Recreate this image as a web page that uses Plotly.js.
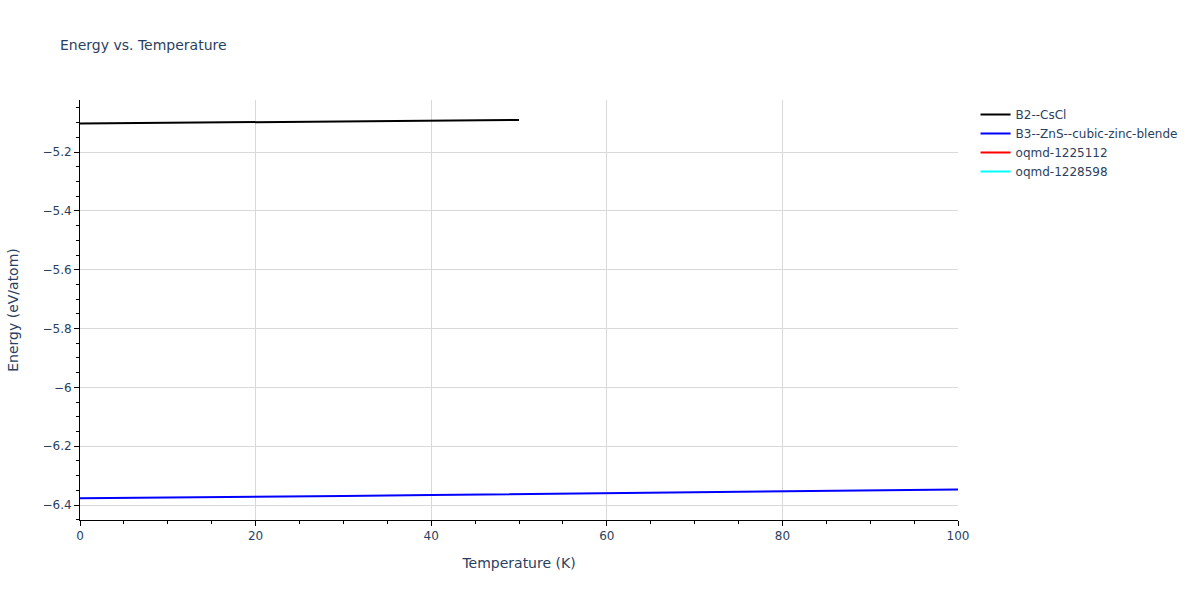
<!DOCTYPE html>
<html>
<head>
<meta charset="utf-8">
<script src="https://cdn.plot.ly/plotly-3.0.1.min.js"></script>
<style>body{margin:0;padding:0;}#chart{width:1200px;height:600px;}</style>
</head>
<body>
<div id="chart"></div>
<script>
// Data
const tempB2 = [0, 10, 20, 30, 40, 50];
const energyB2 = [-5.103, -5.101, -5.099, -5.097, -5.094, -5.091];
const tempB3 = [0, 10, 20, 30, 40, 50, 60, 70, 80, 90, 100];
const energyB3 = [-6.377, -6.375, -6.372, -6.369, -6.366, -6.363, -6.360, -6.357, -6.354, -6.351, -6.347];
const tempO1 = [null];
const energyO1 = [null];
const tempO2 = [null];
const energyO2 = [null];

const names = ["B2--CsCl", "B3--ZnS--cubic-zinc-blende", "oqmd-1225112", "oqmd-1228598"];
const colors = ["black", "blue", "red", "cyan"];
const xs = [tempB2, tempB3, tempO1, tempO2];
const ys = [energyB2, energyB3, energyO1, energyO2];

const traces = names.map((n, i) => ({
  x: xs[i], y: ys[i], name: n, type: "scatter", mode: "lines",
  line: {color: colors[i], width: 2}, showlegend: true
}));

const layout = {
  width: 1200, height: 600,
  margin: {l: 80, r: 242, t: 100, b: 80},
  font: {family: "DejaVu Sans, Verdana, sans-serif", size: 12, color: "#2a3f5f"},
  title: {text: "Energy vs. Temperature", x: 0.05, xanchor: "left", font: {size: 14}},
  paper_bgcolor: "white", plot_bgcolor: "white",
  xaxis: {
    title: {text: "Temperature (K)", standoff: 15},
    automargin: false,
    range: [0, 100], dtick: 20,
    showline: true, linecolor: "black", linewidth: 1,
    ticks: "outside", tickcolor: "black",
    showgrid: true, gridcolor: "#d9d9d9",
    zeroline: false,
    minor: {dtick: 5, ticks: "outside", tickcolor: "black", ticklen: 3, showgrid: false}
  },
  yaxis: {
    title: {text: "Energy (eV/atom)", standoff: 20},
    automargin: false,
    range: [-6.451, -5.023], dtick: 0.2,
    showline: true, linecolor: "black", linewidth: 1,
    ticks: "outside", tickcolor: "black",
    showgrid: true, gridcolor: "#d9d9d9",
    zeroline: false,
    minor: {dtick: 0.05, ticks: "outside", tickcolor: "black", ticklen: 3, showgrid: false}
  },
  legend: {x: 1.02, y: 1, xanchor: "left", yanchor: "top"},
  showlegend: true
};

Plotly.newPlot("chart", traces, layout, {displayModeBar: false});
</script>
</body>
</html>
